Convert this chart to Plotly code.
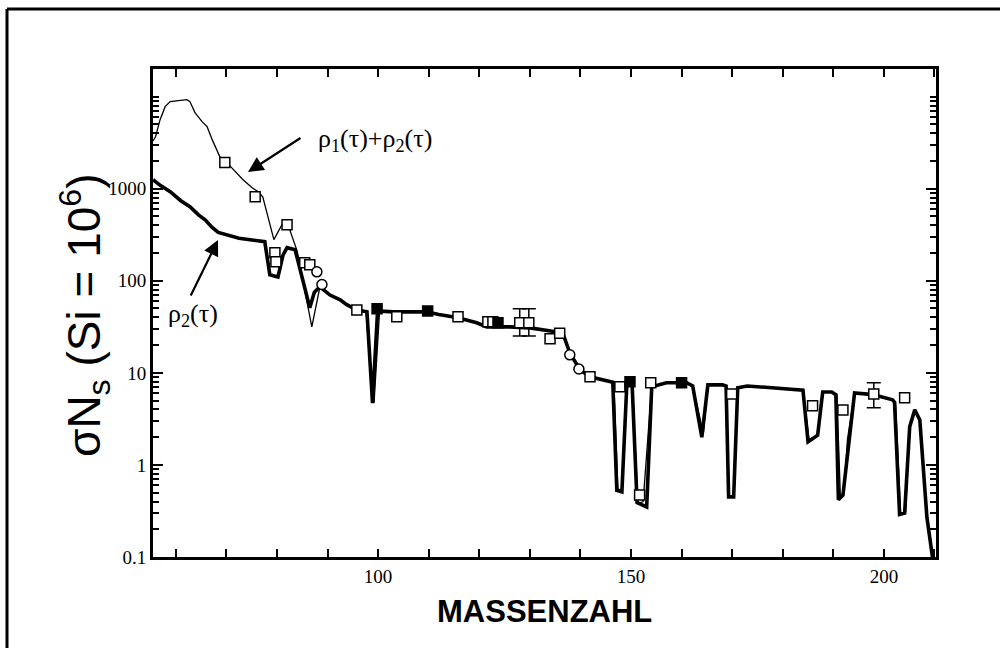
import plotly.graph_objects as go

# ---------------- data ----------------
# thin curve: rho1(tau)+rho2(tau)
thin_head_A = [55.5, 56.0, 56.9, 57.9, 58.9, 60.5, 62.2, 62.8, 63.8, 65.2, 66.2, 67.2, 68.7, 70.1,
               71.7, 73.3, 75.1, 76.3, 77.2, 78.2, 79.4, 81.2, 82.2, 84.0, 86.9, 88.5]
thin_head_y = [3300, 3670, 5620, 7780, 8830, 9100, 9270, 8830, 6700, 5350, 4720, 3410, 2230, 1920,
               1530, 1250, 1025, 928, 818, 496, 280, 427, 406, 210, 31.6, 86]
thin_tail_A = [90.5, 92.5, 93.8, 95.8, 97.6, 99.2, 100.3, 103, 109.6, 112, 115.6, 119.5, 121.5, 126,
               130, 134.5, 136.5, 137.9, 139.9, 141.9, 145.8, 146.6, 147.4, 148.2, 149.2, 150.2,
               151.4, 152.4, 153.4, 154.1, 157, 161, 162.2, 164.3, 165.2, 168.1, 168.8, 169.3,
               170.3, 171.1, 173, 184, 185.2, 186.9, 187.9, 189.7, 190.7, 191.4, 192.1, 192.8,
               194.2, 197.8, 201.7, 202.3, 203.3, 204.3, 205.1, 206.1, 207.1, 208.5, 209.6]
thin_tail_y = [70, 62, 55, 48, 46, 4.7, 47, 46, 46, 43, 40, 35, 31.6, 31.6,
               30.8, 27.9, 27.2, 16.5, 10.8, 9.06, 8.0, 7.9, 0.55, 0.53, 8.0, 8.0,
               0.38, 0.4, 2.2, 7.05, 7.8, 7.8, 7.2, 2.2, 7.4, 7.4, 7.2, 0.45,
               0.45, 6.9, 7.2, 6.5, 1.9, 2.1, 6.2, 6.2, 5.8, 0.45, 0.5, 1.9,
               6.06, 5.8, 5.1, 4.8, 0.3, 0.31, 2.6, 3.96, 3.08, 0.27, 0.1]

# thick curve: rho2(tau)
thick_A = [55.5, 57, 58.9, 61, 62.8, 64.5, 65.8, 67.2, 68.4, 70.7, 72.5, 74.7, 77.6, 78.6, 80.2,
           81.2, 82.0, 83.6, 86.5, 87.4, 88.5, 90.5, 92.5, 93.8, 95.8, 97.8, 98.9, 99.9, 103,
           109.6, 112, 115.6, 119.5, 121.5, 126, 130, 134.5, 136.5, 137.9, 139.9, 141.9, 145.8,
           146.4, 147.2, 148.2, 149.2, 150.2, 151.2, 153.1, 154.1, 157, 161, 162.2, 164, 165.2,
           168.1, 168.8, 169.3, 170.3, 171.1, 173, 184, 185, 186.9, 187.9, 189.7, 190.5, 191.0,
           191.9, 194.2, 197.8, 201.7, 202.1, 203.1, 204.1, 205.1, 206.1, 207.1, 208.5, 209.6]
thick_y = [1250, 1080, 928, 740, 637, 520, 460, 380, 335, 305, 290, 279, 266, 116, 110,
           190, 229, 217, 51, 75, 86, 70, 62, 55, 48, 46, 4.7, 47, 46,
           46, 43, 40, 35, 31.6, 31.6, 30.8, 27.9, 27.2, 16.5, 10.8, 9.06, 8.0,
           7.9, 0.53, 0.51, 8.0, 8.0, 0.39, 0.35, 7.05, 7.8, 7.8, 7.2, 2.0, 7.4,
           7.4, 7.2, 0.45, 0.45, 6.9, 7.2, 6.5, 1.78, 2.1, 6.2, 6.2, 5.8, 0.42,
           0.47, 6.06, 5.8, 5.1, 4.8, 0.29, 0.30, 2.6, 3.96, 3.08, 0.27, 0.1]

open_sq_A = [69.7, 75.7, 79.6, 79.8, 82.0, 85.5, 86.5, 95.8, 103.7, 115.8, 121.7, 122.7, 134.0,
             135.9, 141.9, 147.8, 151.7, 153.9, 169.9, 185.9, 191.9, 204.1]
open_sq_y = [1920, 818, 201, 161, 406, 157, 149, 48, 40.6, 40.6, 35.8, 35.8, 23.4,
             27, 9.06, 7.05, 0.47, 7.8, 5.9, 4.4, 3.96, 5.35]

filled_sq_A = [99.8, 109.8, 123.7, 149.8, 160.0]
filled_sq_y = [49.6, 47, 35, 8.0, 7.8]

circle_A = [87.9, 88.9, 137.9, 139.7]
circle_y = [125, 91, 15.7, 11]

err_A = [128.0, 129.8, 198.0]
err_y = [35, 35, 5.9]
err_hi = [49.6, 49.6, 7.8]
err_lo = [25.2, 25.2, 4.17]

x_tickvals = [100, 150, 200]
x_minor_dtick = 10
y_major = [0.1, 1, 10, 100, 1000]
y_major_labels = ["0.1", "1", "10", "100", "1000"]
y_minor = [m * d for d in [0.1, 1, 10, 100, 1000, 10000] for m in range(2, 10)] + [10000]

# ---------------- figure ----------------
W, H = 1000, 648
L, R, T, B = 153, 64, 69, 91
PW, PH = W - L - R, H - T - B
Y_RANGE = [-1, 4.3]


def px(xp):
    return (xp - L) / PW


def py(yp):
    return 1 - (yp - T) / PH


serif = "Liberation Serif, Times New Roman, DejaVu Serif, serif"
sans = "Liberation Sans, Arial, sans-serif"

fig = go.Figure()

fig.add_trace(go.Scatter(x=thin_head_A + thin_tail_A, y=thin_head_y + thin_tail_y, mode="lines",
                         line=dict(color="black", width=1.3), showlegend=False))
fig.add_trace(go.Scatter(x=thick_A, y=thick_y, mode="lines",
                         line=dict(color="black", width=3.6), showlegend=False))
# invisible copy on the overlay axis that carries the short (minor) log ticks
fig.add_trace(go.Scatter(x=thick_A, y=thick_y, mode="lines", yaxis="y2", opacity=0,
                         line=dict(color="black", width=0.1), hoverinfo="skip",
                         showlegend=False))

open_marker = dict(symbol="square", size=10, color="white", line=dict(color="black", width=1.5))
fig.add_trace(go.Scatter(x=open_sq_A, y=open_sq_y, mode="markers", marker=open_marker,
                         showlegend=False))
fig.add_trace(go.Scatter(x=err_A, y=err_y, mode="markers", marker=open_marker,
                         error_y=dict(type="data", symmetric=False,
                                      array=[h - v for h, v in zip(err_hi, err_y)],
                                      arrayminus=[v - l for v, l in zip(err_y, err_lo)],
                                      color="black", thickness=1.5, width=7),
                         showlegend=False))
fig.add_trace(go.Scatter(x=filled_sq_A, y=filled_sq_y, mode="markers",
                         marker=dict(symbol="square", size=10, color="black",
                                     line=dict(color="black", width=1.5)),
                         showlegend=False))
fig.add_trace(go.Scatter(x=circle_A, y=circle_y, mode="markers",
                         marker=dict(symbol="circle", size=10, color="white",
                                     line=dict(color="black", width=1.5)),
                         showlegend=False))

fig.update_layout(
    width=W, height=H,
    margin=dict(l=L, r=R, t=T, b=B),
    paper_bgcolor="white", plot_bgcolor="white",
    showlegend=False,
    xaxis=dict(range=[55.5, 210.3], tickmode="array", tickvals=x_tickvals,
               ticks="inside", ticklen=8, tickwidth=1.5, tickcolor="black",
               minor=dict(dtick=x_minor_dtick, tick0=0, ticks="inside", ticklen=8,
                          tickwidth=1.5, tickcolor="black", showgrid=False),
               showline=True, linecolor="black", linewidth=3, mirror="ticks",
               showgrid=False, zeroline=False,
               tickfont=dict(family=serif, size=19, color="black")),
    yaxis=dict(type="log", range=Y_RANGE, tickmode="array", tickvals=y_major,
               ticktext=y_major_labels,
               ticks="inside", ticklen=10, tickwidth=1.5, tickcolor="black",
               showline=True, linecolor="black", linewidth=3, mirror="ticks",
               showgrid=False, zeroline=False,
               tickfont=dict(family=serif, size=19, color="black")),
    yaxis2=dict(type="log", range=Y_RANGE, overlaying="y", side="left", anchor="x",
                tickmode="array", tickvals=y_minor,
                ticks="inside", ticklen=6, tickwidth=1.5, tickcolor="black",
                showline=True, linecolor="black", linewidth=3, mirror="ticks",
                showgrid=False, zeroline=False, showticklabels=False),
)

annotations = [
    dict(xref="paper", yref="paper", x=0.5, y=py(611), text="<b>MASSENZAHL</b>",
         showarrow=False, font=dict(family=sans, size=31, color="black"),
         xanchor="center", yanchor="middle"),
    dict(xref="paper", yref="paper", x=px(84), y=py(315),
         text="σN<sub>s</sub> (Si = 10<sup>6</sup>)", textangle=-90,
         showarrow=False, font=dict(family=sans, size=46, color="black"),
         xanchor="center", yanchor="middle"),
    dict(xref="paper", yref="paper", x=px(375), y=py(140),
         text="ρ<sub>1</sub>(τ)+ρ<sub>2</sub>(τ)", showarrow=False,
         font=dict(family=serif, size=26, color="black"), xanchor="center", yanchor="middle"),
    dict(xref="paper", yref="paper", x=px(193), y=py(315),
         text="ρ<sub>2</sub>(τ)", showarrow=False,
         font=dict(family=serif, size=26, color="black"), xanchor="center", yanchor="middle"),
    dict(xref="paper", yref="paper", x=px(248), y=py(172), ax=54, ay=-35,
         axref="pixel", ayref="pixel", text="", showarrow=True,
         arrowhead=2, arrowsize=1.4, arrowwidth=2.2, arrowcolor="black"),
    dict(xref="paper", yref="paper", x=px(218), y=py(240), ax=-28, ay=57,
         axref="pixel", ayref="pixel", text="", showarrow=True,
         arrowhead=2, arrowsize=1.4, arrowwidth=2.2, arrowcolor="black"),
]
fig.update_layout(annotations=annotations)

# outer frame of the original picture (top and left edges)
fig.update_layout(shapes=[
    dict(type="line", xref="paper", yref="paper", x0=px(7), x1=px(1000), y0=py(9), y1=py(9),
         line=dict(color="black", width=3)),
    dict(type="line", xref="paper", yref="paper", x0=px(7), x1=px(7), y0=py(9), y1=py(648),
         line=dict(color="black", width=3)),
])

fig.write_html("out.html")
